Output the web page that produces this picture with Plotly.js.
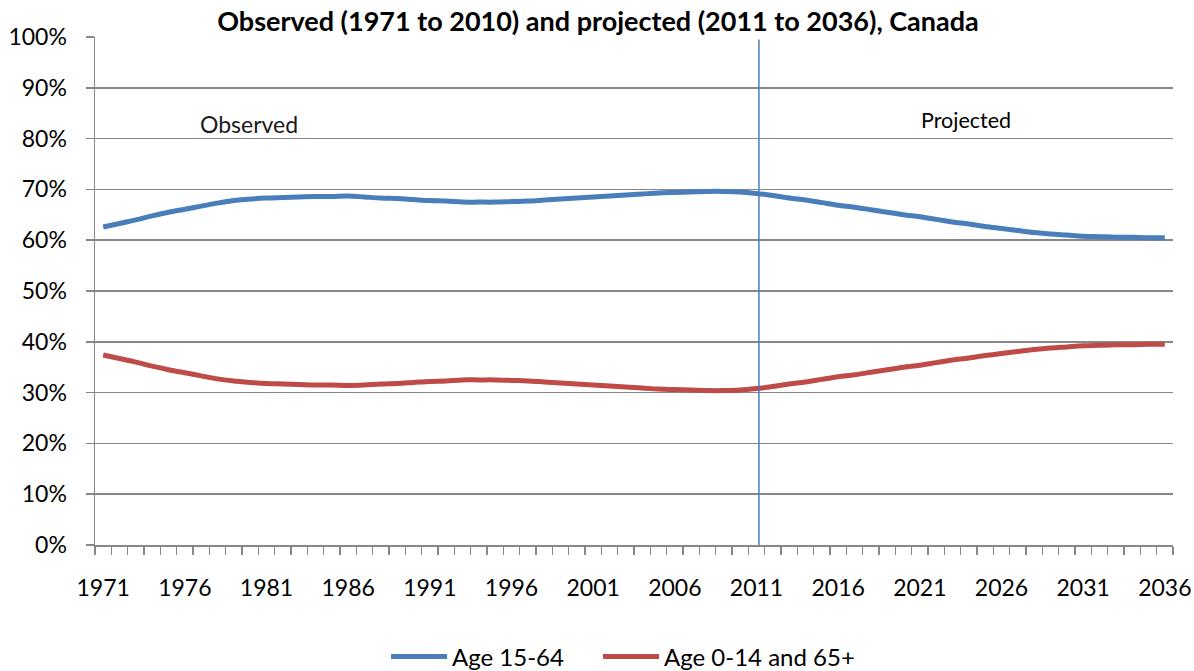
<!DOCTYPE html>
<html>
<head>
<meta charset="utf-8">
<script src="https://cdn.plot.ly/plotly-3.0.1.min.js"></script>
<style>html,body{margin:0;padding:0;background:#fff;}#chart{width:1194px;height:671px;}</style>
</head>
<body>
<div id="chart"></div>
<script>
// Years 1971..2036
var years = [1971,1972,1973,1974,1975,1976,1977,1978,1979,1980,
             1981,1982,1983,1984,1985,1986,1987,1988,1989,1990,
             1991,1992,1993,1994,1995,1996,1997,1998,1999,2000,
             2001,2002,2003,2004,2005,2006,2007,2008,2009,2010,
             2011,2012,2013,2014,2015,2016,2017,2018,2019,2020,
             2021,2022,2023,2024,2025,2026,2027,2028,2029,2030,
             2031,2032,2033,2034,2035,2036];

// Age 15-64 (% of population)
var age1564 = [62.6,63.3,64.0,64.8,65.5,66.1,66.7,67.3,67.8,68.1,
               68.3,68.4,68.5,68.6,68.6,68.7,68.5,68.3,68.2,68.0,
               67.8,67.7,67.5,67.5,67.5,67.6,67.7,67.9,68.1,68.3,
               68.5,68.7,68.9,69.1,69.3,69.4,69.5,69.6,69.6,69.5,
               69.2,68.8,68.3,67.9,67.4,66.9,66.5,66.0,65.5,65.0,
               64.6,64.1,63.6,63.2,62.7,62.3,61.9,61.5,61.2,61.0,
               60.8,60.7,60.6,60.6,60.5,60.5];

// Age 0-14 and 65+ (% of population)
var age014_65 = [37.4,36.7,36.0,35.2,34.5,33.9,33.3,32.7,32.3,32.0,
                 31.8,31.7,31.6,31.5,31.5,31.4,31.5,31.7,31.8,32.0,
                 32.2,32.3,32.5,32.5,32.5,32.4,32.3,32.1,31.9,31.7,
                 31.5,31.3,31.1,30.9,30.7,30.6,30.5,30.4,30.4,30.5,
                 30.8,31.2,31.7,32.1,32.6,33.1,33.5,34.0,34.5,35.0,
                 35.4,35.9,36.4,36.8,37.3,37.7,38.1,38.5,38.8,39.0,
                 39.2,39.3,39.4,39.4,39.5,39.5];

var tickYears = [1971,1976,1981,1986,1991,1996,2001,2006,2011,2016,2021,2026,2031,2036];
var tickLabels = ["1971","1976","1981","1986","1991","1996","2001","2006","2011","2016","2021","2026","2031","2036"];
var yTicks = [0,10,20,30,40,50,60,70,80,90,100];
var yLabels = ["0%","10%","20%","30%","40%","50%","60%","70%","80%","90%","100%"];

var FONT = "Lato, 'Open Sans', sans-serif";
var GRID = "#878787";

var traces = [
  {x: years, y: age1564, type: "scatter", mode: "lines", name: "Age 15-64", legend: "legend",
   line: {color: "#4A7EBB", width: 5, shape: "spline", smoothing: 1}},
  {x: years, y: age014_65, type: "scatter", mode: "lines", name: "Age 0-14 and 65+", legend: "legend2",
   line: {color: "#BE4B48", width: 5, shape: "spline", smoothing: 1}}
];

var legendFont = {family: FONT, size: 24, color: "#000"};

var layout = {
  width: 1194, height: 671,
  margin: {l: 95, r: 21, t: 37, b: 126, autoexpand: false},
  paper_bgcolor: "#fff", plot_bgcolor: "#fff",
  font: {family: FONT, color: "#000", size: 20},
  title: {text: "<b>Observed (1971 to 2010) and projected (2011 to 2036), Canada</b>",
          font: {family: FONT, size: 27, color: "#000"},
          x: (598 - 95) / 1078, xref: "paper", xanchor: "center",
          yref: "container", y: 1 - 22 / 671, yanchor: "middle"},
  xaxis: {
    type: "linear", range: [1970.5, 2036.5],
    tickvals: tickYears, ticktext: tickLabels, ticks: "",
    showgrid: false, zeroline: false,
    showline: true, linecolor: GRID, linewidth: 1.5,
    tickfont: {family: FONT, size: 23, color: "#000"},
    ticklabelstandoff: 22,
    minor: {tick0: 1970.5, dtick: 1, ticks: "outside", ticklen: 8, tickcolor: GRID, tickwidth: 1.5, showgrid: false}
  },
  yaxis: {
    range: [0, 100], tickvals: yTicks, ticktext: yLabels,
    ticks: "outside", ticklen: 8, tickcolor: GRID, tickwidth: 1.5,
    showgrid: true, gridcolor: GRID, gridwidth: 1.5,
    zeroline: false, showline: true, linecolor: GRID, linewidth: 1.5,
    tickfont: {family: FONT, size: 23, color: "#000"},
    ticklabelstandoff: 14
  },
  shapes: [
    {type: "line", xref: "x", yref: "paper", x0: 2011.15, x1: 2011.15, y0: 0, y1: 0.995,
     line: {color: "#4A7EBB", width: 1.5}}
  ],
  annotations: [
    {text: "Observed", xref: "paper", yref: "paper", x: (249 - 95) / 1078, y: (545 - 124) / 508,
     xanchor: "center", yanchor: "middle", showarrow: false,
     font: {family: FONT, size: 23, color: "#1a1a1a"}},
    {text: "Projected", xref: "paper", yref: "paper", x: (966 - 95) / 1078, y: (545 - 120) / 508,
     xanchor: "center", yanchor: "middle", showarrow: false,
     font: {family: FONT, size: 21.5, color: "#000"}}
  ],
  showlegend: true,
  legend: {orientation: "h", xref: "paper", x: (386 - 95) / 1078, xanchor: "left",
           yref: "container", y: (671 - 657) / 671, yanchor: "middle",
           font: legendFont, itemwidth: 56},
  legend2: {orientation: "h", xref: "paper", x: (598 - 95) / 1078, xanchor: "left",
           yref: "container", y: (671 - 657) / 671, yanchor: "middle",
           font: legendFont, itemwidth: 56}
};

Plotly.newPlot("chart", traces, layout, {displayModeBar: false, staticPlot: true});
</script>
</body>
</html>
